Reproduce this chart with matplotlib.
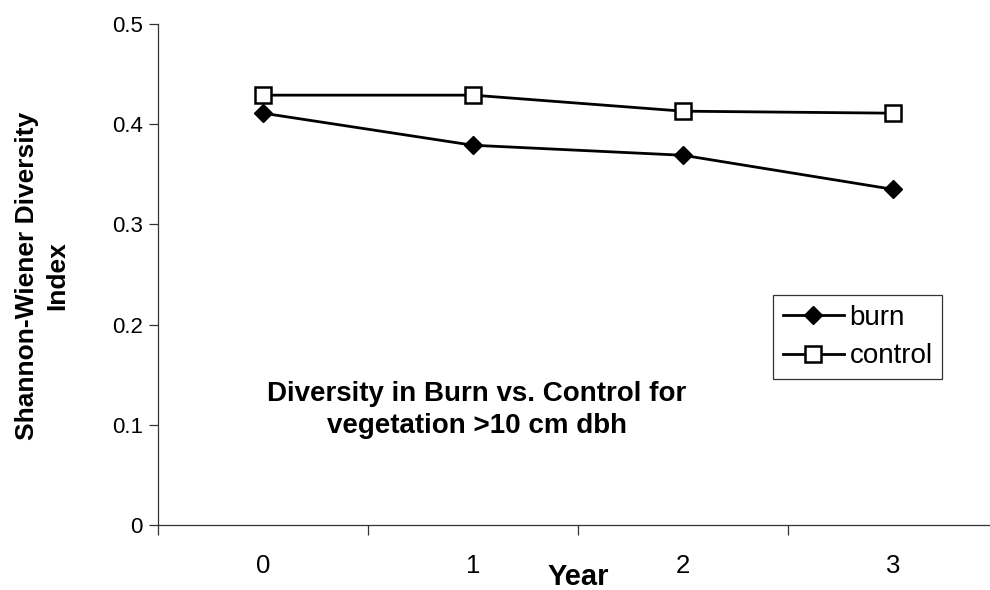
import matplotlib
matplotlib.use("Agg")
import matplotlib.pyplot as plt

plt.rcParams["font.family"] = ["Liberation Sans", "DejaVu Sans"]

years = ["0", "1", "2", "3"]
burn = [0.411, 0.379, 0.369, 0.335]
control = [0.429, 0.429, 0.413, 0.411]
y_ticks = [0, 0.1, 0.2, 0.3, 0.4, 0.5]
y_tick_labels = ["0", "0.1", "0.2", "0.3", "0.4", "0.5"]

fig = plt.figure(figsize=(9.9, 5.9), dpi=100)
ax = fig.add_axes([0.1596, 0.1102, 0.8485, 0.8491])

x = list(range(len(years)))
ax.plot(x, burn, color="black", lw=2.0, marker="D", ms=9.5,
        markerfacecolor="black", markeredgecolor="black", label="burn")
ax.plot(x, control, color="black", lw=2.0, marker="s", ms=11.5,
        markerfacecolor="white", markeredgecolor="black", markeredgewidth=1.8,
        label="control", zorder=3)

ax.set_xlim(-0.5, len(years) - 0.5)
ax.set_ylim(0, 0.5)

# category labels sit between the boundary tick marks
ax.set_xticks([i - 0.5 for i in range(len(years) + 1)])
ax.set_xticklabels([])
ax.set_xticks(x, minor=True)
ax.set_xticklabels(years, minor=True)
ax.tick_params(axis="x", which="major", direction="out", length=7, width=0.9, color="#333333")
ax.tick_params(axis="x", which="minor", length=0, pad=21, labelsize=18.5)

ax.set_yticks(y_ticks)
ax.set_yticklabels(y_tick_labels)
ax.tick_params(axis="y", direction="out", length=6.5, width=0.9, color="#333333",
               pad=4.5, labelsize=16)

for side in ("top", "right"):
    ax.spines[side].set_visible(False)
for side in ("left", "bottom"):
    ax.spines[side].set_linewidth(0.9)
    ax.spines[side].set_color("#333333")

fig.text(578 / 990, 1 - 577 / 590, "Year", ha="center", va="center",
         fontsize=21, fontweight="bold")
fig.text(42 / 990, 1 - 276 / 590, "Shannon-Wiener Diversity\nIndex",
         rotation=90, ha="center", va="center", multialignment="center",
         fontsize=19, fontweight="bold", linespacing=1.3)
fig.text(477 / 990, 1 - 410 / 590, "Diversity in Burn vs. Control for\nvegetation >10 cm dbh",
         ha="center", va="center", multialignment="center",
         fontsize=20, fontweight="bold", linespacing=1.3)

leg = ax.legend(loc="upper left", bbox_to_anchor=(773 / 990, 1 - 295 / 590),
                bbox_transform=fig.transFigure, fontsize=20, frameon=True,
                fancybox=False, edgecolor="black", handlelength=2.2,
                handletextpad=0.2, labelspacing=0.45, borderpad=0.35,
                borderaxespad=0)
leg.get_frame().set_linewidth(0.9)

fig.savefig("out.png", dpi=100)
